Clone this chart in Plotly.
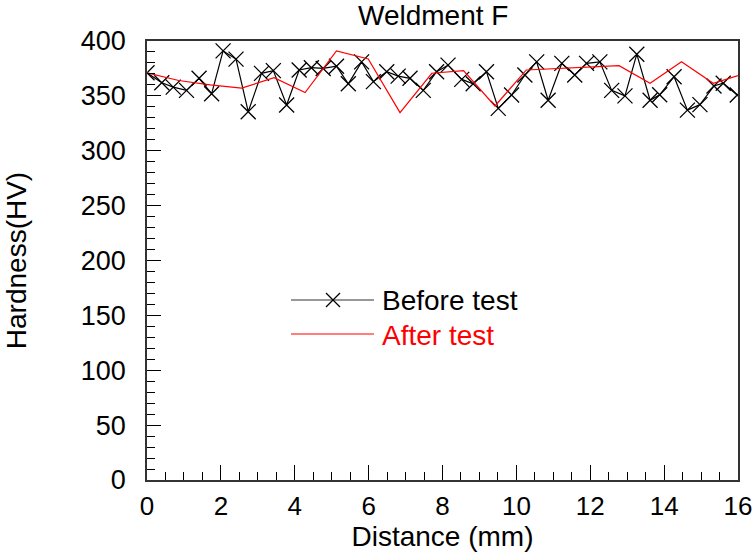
import plotly.graph_objects as go

# Hardness traverse across weldment F
before_x = [0, 0.40, 0.71, 1.07, 1.41, 1.75, 2.06, 2.41, 2.74, 3.10, 3.42, 3.78,
            4.12, 4.45, 4.77, 5.13, 5.45, 5.81, 6.13, 6.49, 6.80, 7.12, 7.48, 7.84,
            8.15, 8.52, 8.83, 9.19, 9.51, 9.87, 10.23, 10.55, 10.86, 11.23, 11.58, 11.90,
            12.26, 12.58, 12.94, 13.26, 13.62, 13.88, 14.27, 14.63, 14.97, 15.35, 15.60, 15.98]
before_hv = [371, 362, 358, 355, 366, 352, 391, 383.5, 335.6, 370.5, 373, 341.7,
             373.6, 375.7, 375, 377, 361, 381, 363, 372, 368, 366, 355, 372,
             378, 365, 361, 372, 338.6, 350.8, 369, 381, 346, 379.6, 369, 379.6,
             381, 355, 350, 388, 346, 351, 367.5, 337, 342, 359, 361.5, 350.8]

after_x = [0, 0.86, 1.71, 2.56, 3.44, 4.28, 5.13, 5.99, 6.85, 7.71, 8.57, 9.42,
           10.27, 11.13, 11.98, 12.78, 13.62, 14.47, 15.33, 16.0]
after_hv = [371, 364, 360, 357, 366.6, 353, 391, 383.6, 334.7, 370.6, 373, 340.8,
            373.6, 375, 376, 377.5, 361.4, 381, 361.4, 368.4]

x_ticks = [0, 2, 4, 6, 8, 10, 12, 14, 16]
y_ticks = [0, 50, 100, 150, 200, 250, 300, 350, 400]

FONT = "Liberation Sans, Arial, sans-serif"
W, H = 754, 558
L, R, T, B = 147, 16, 41, 78
PW, PH = W - L - R, H - T - B


def px(x):
    return (x - L) / PW


def py(y):
    return (H - B - y) / PH


fig = go.Figure()
fig.add_trace(go.Scatter(
    x=before_x, y=before_hv, mode="lines+markers", name="Before test",
    line=dict(color="black", width=1.2),
    marker=dict(symbol="x-thin-open", size=15, line=dict(color="black", width=1.3)),
    showlegend=False,
))
fig.add_trace(go.Scatter(
    x=after_x, y=after_hv, mode="lines", name="After test",
    line=dict(color="#ff0000", width=1.2),
    showlegend=False,
))

# Legend block drawn in paper space
shapes = [
    dict(type="line", xref="paper", yref="paper", x0=px(291), x1=px(374),
         y0=py(300), y1=py(300), line=dict(color="#333", width=1.2)),
    dict(type="line", xref="paper", yref="paper", x0=px(326), x1=px(340),
         y0=py(293), y1=py(307), line=dict(color="black", width=1.2)),
    dict(type="line", xref="paper", yref="paper", x0=px(326), x1=px(340),
         y0=py(307), y1=py(293), line=dict(color="black", width=1.2)),
    dict(type="line", xref="paper", yref="paper", x0=px(291), x1=px(374),
         y0=py(334), y1=py(334), line=dict(color="#ff0000", width=1.2)),
]
annotations = [
    dict(text="Before test", xref="paper", yref="paper", x=px(380), y=py(300),
         xanchor="left", yanchor="middle", showarrow=False,
         font=dict(family=FONT, size=28, color="black")),
    dict(text="After test", xref="paper", yref="paper", x=px(380), y=py(335),
         xanchor="left", yanchor="middle", showarrow=False,
         font=dict(family=FONT, size=28, color="#ff0000")),
    dict(text="Weldment F", xref="paper", yref="paper", x=px(433), y=py(15),
         xanchor="center", yanchor="middle", showarrow=False,
         font=dict(family=FONT, size=28, color="black")),
]

fig.update_layout(
    width=W, height=H,
    margin=dict(l=L, r=R, t=T, b=B, pad=0, autoexpand=False),
    paper_bgcolor="white", plot_bgcolor="white",
    font=dict(family=FONT, color="black"),
    shapes=shapes, annotations=annotations,
)
fig.update_xaxes(
    range=[0, 16], tickvals=x_ticks, ticktext=[str(v) for v in x_ticks],
    ticks="inside", ticklen=15, tickwidth=1, tickcolor="black",
    minor=dict(dtick=0.5, tick0=0, ticks="inside", ticklen=8, tickwidth=1, tickcolor="black"),
    showline=True, linecolor="#333", linewidth=1.5, mirror=True,
    showgrid=False, zeroline=False, automargin=False,
    tickfont=dict(family=FONT, size=26), ticklabelstandoff=2,
    title=dict(text="Distance (mm)", font=dict(family=FONT, size=28), standoff=2),
)
fig.update_yaxes(
    range=[0, 400], tickvals=y_ticks, ticktext=[str(v) for v in y_ticks],
    ticks="inside", ticklen=14, tickwidth=1, tickcolor="black",
    minor=dict(dtick=10, tick0=0, ticks="inside", ticklen=8, tickwidth=1, tickcolor="black"),
    showline=True, linecolor="#333", linewidth=1.5, mirror=True,
    showgrid=False, zeroline=False, automargin=False,
    tickfont=dict(family=FONT, size=27), ticklabelstandoff=14,
    title=dict(text="Hardness(HV)", font=dict(family=FONT, size=28), standoff=46),
)

fig.write_html("out.html")
